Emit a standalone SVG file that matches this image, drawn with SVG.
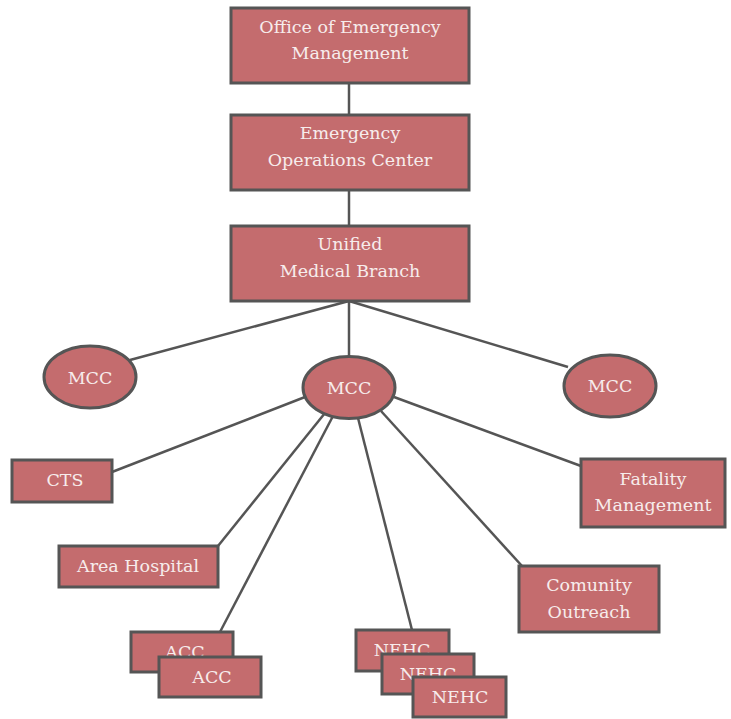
<svg xmlns="http://www.w3.org/2000/svg" width="731" height="719" viewBox="0 0 731 719">
<style>
.n{fill:#c46c6e;stroke:#555;stroke-width:3}
.t{font-family:"DejaVu Serif","Liberation Serif",serif;font-size:17.5px;fill:#f7ecec;text-anchor:middle;dominant-baseline:central}
.c{stroke:#555;stroke-width:2.5;fill:none}
</style>
<rect width="731" height="719" fill="#fff"/>
<g id="connectors">
<line class="c" x1="349" y1="83" x2="349" y2="115"/>
<line class="c" x1="349" y1="190" x2="349" y2="226"/>
<line class="c" x1="349" y1="301" x2="349" y2="356"/>
<line class="c" x1="349" y1="301" x2="130" y2="360"/>
<line class="c" x1="349" y1="301" x2="568" y2="367"/>
<line class="c" x1="305" y1="397" x2="112" y2="472"/>
<line class="c" x1="325" y1="413" x2="218" y2="546"/>
<line class="c" x1="333" y1="416" x2="220" y2="632"/>
<line class="c" x1="358" y1="418" x2="412" y2="630"/>
<line class="c" x1="381" y1="411" x2="522" y2="566"/>
<line class="c" x1="394" y1="397" x2="581" y2="466"/>
</g>
<g id="oem"><rect class="n" x="231" y="8" width="238" height="75"/><text class="t" x="350" y="27">Office of Emergency</text><text class="t" x="350" y="53">Management</text></g>
<g id="eoc"><rect class="n" x="231" y="115" width="238" height="75"/><text class="t" x="350" y="133">Emergency</text><text class="t" x="350" y="160">Operations Center</text></g>
<g id="umb"><rect class="n" x="231" y="226" width="238" height="75"/><text class="t" x="350" y="244">Unified</text><text class="t" x="350" y="271">Medical Branch</text></g>
<g id="mcc-left"><ellipse class="n" cx="90" cy="377" rx="46" ry="31"/><text class="t" x="90" y="378">MCC</text></g>
<g id="mcc-center"><ellipse class="n" cx="349" cy="387.5" rx="46" ry="31"/><text class="t" x="349" y="388">MCC</text></g>
<g id="mcc-right"><ellipse class="n" cx="610" cy="386" rx="46" ry="31"/><text class="t" x="610" y="386">MCC</text></g>
<g id="cts"><rect class="n" x="12" y="460" width="100" height="42"/><text class="t" x="65" y="480">CTS</text></g>
<g id="area-hospital"><rect class="n" x="59" y="546" width="159" height="41"/><text class="t" x="138" y="566">Area Hospital</text></g>
<g id="fatality"><rect class="n" x="581" y="459" width="144" height="68"/><text class="t" x="653" y="479">Fatality</text><text class="t" x="653" y="505">Management</text></g>
<g id="community"><rect class="n" x="519" y="566" width="140" height="66"/><text class="t" x="589" y="585">Comunity</text><text class="t" x="589" y="612">Outreach</text></g>
<g id="acc1"><rect class="n" x="131" y="632" width="102" height="40"/><text class="t" x="185" y="652">ACC</text></g>
<g id="acc2"><rect class="n" x="159" y="657" width="102" height="40"/><text class="t" x="212" y="677">ACC</text></g>
<g id="nehc1"><rect class="n" x="356" y="630" width="93" height="41"/><text class="t" x="402" y="650">NEHC</text></g>
<g id="nehc2"><rect class="n" x="382" y="654" width="92" height="40"/><text class="t" x="428" y="674">NEHC</text></g>
<g id="nehc3"><rect class="n" x="413" y="677" width="93" height="40"/><text class="t" x="460" y="697">NEHC</text></g>
</svg>
